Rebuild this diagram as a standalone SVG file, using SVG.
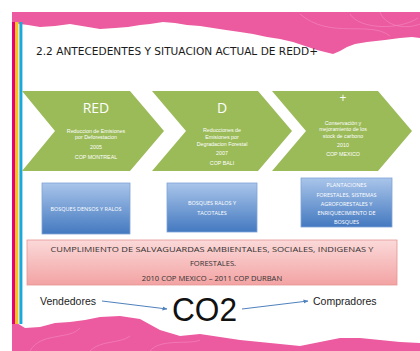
<svg xmlns="http://www.w3.org/2000/svg" width="420" height="351" viewBox="0 0 420 351">
<style>
.chev{fill:#9bbb59}
.cw{fill:#ffffff;font-family:"Open Sans","Liberation Sans",sans-serif;text-anchor:middle}
.big{font-size:14px}
.sm{font-size:5.3px;font-family:"Liberation Sans",Arial,sans-serif}
.bx{fill:url(#gBlue);stroke:#7fa3d6;stroke-width:0.8}
.bt{fill:#ffffff;font-family:"Open Sans","Liberation Sans",sans-serif;font-size:5.5px;text-anchor:middle}
.pt{fill:#333333;font-family:"Open Sans","Liberation Sans",sans-serif;font-size:7.6px;text-anchor:middle}
.lab{fill:#222;font-family:"Liberation Sans",Arial,sans-serif;font-size:10.5px}
.conn{stroke:#4f81bd;stroke-width:1;fill:none;marker-end:url(#ah)}
.swirl{fill:none;stroke:#f48cc0;stroke-width:1;opacity:0.6}
</style>
<defs>
<linearGradient id="gBlue" x1="0" y1="0" x2="0" y2="1">
<stop offset="0" stop-color="#a9c5ea"/>
<stop offset="1" stop-color="#4479c0"/>
</linearGradient>
<linearGradient id="gPink" x1="0" y1="0" x2="0" y2="1">
<stop offset="0" stop-color="#fbd9d9"/>
<stop offset="1" stop-color="#f3a3a3"/>
</linearGradient>
<marker id="ah" viewBox="0 0 10 10" refX="9" refY="5" markerWidth="5" markerHeight="5" orient="auto">
<path d="M0,1 L10,5 L0,9 Z" fill="#4f81bd"/>
</marker>
</defs>
<rect width="420" height="351" fill="#ffffff"/>
<g id="background">
<path d="M12,12 H420 V38 L412,37 L400,38 L385,40 L367,42 L355,44 L347,47 L340,51 L333,54 L325,52 L317,50 L305,46 L293,42 L280,39 L267,37 L253,34 L240,32 L226,30 L213,28 L200,26 L187,25 L175,23 L163,22 L150,24 L140,25 L128,27 L115,28 L100,29 L88,27 L70,24 L55,26 L40,27 L28,25 L12,23 Z" fill="#ec5aa0"/>
<path d="M12,320 L25,328 L40,327 L55,323 L70,322 L85,320 L100,317 L120,316 L140,319 L160,330 L180,336 L200,334 L220,337 L240,340 L260,342 L280,344 L300,346 L320,342 L340,338 L360,338 L380,340 L400,342 L420,343 V351 H12 Z" fill="#ec5aa0"/>
<path class="swirl" d="M300,14 C330,40 370,20 390,36 M350,14 C360,30 400,30 418,18 M380,12 C385,26 405,30 420,24"/>
<path class="swirl" d="M30,351 C40,332 70,340 80,328 M150,351 C160,338 190,345 200,340 M90,351 C100,340 120,344 130,336"/>
<rect x="12" y="22" width="3" height="302" fill="#e6007e"/>
<rect x="15" y="22" width="3.4" height="302" fill="#f8c31c"/>
<rect x="19.4" y="22" width="3" height="302" fill="#19a9dc"/>
</g>
<text id="title" x="36" y="55" font-family="'DejaVu Sans',sans-serif" font-size="10.5" fill="#1a1a1a" textLength="282" lengthAdjust="spacingAndGlyphs">2.2 ANTECEDENTES Y SITUACION ACTUAL DE REDD+</text>
<g id="chev-red">
<path class="chev" d="M22,91 H130 L164,131 L130,171 H22 L55,131 Z"/>
<text class="cw big" x="96" y="113">RED</text>
<text class="cw sm" x="96" y="132.5">Reduccion de Emisiones</text>
<text class="cw sm" x="96" y="139">por Deforestacion</text>
<text class="cw sm" x="96" y="148.5">2005</text>
<text class="cw sm" x="96" y="159">COP MONTREAL</text>
</g>
<g id="chev-d">
<path class="chev" d="M152,91 H258 L292,131 L258,171 H152 L186,131 Z"/>
<text class="cw big" x="222" y="113">D</text>
<text class="cw sm" x="222" y="132">Reducciones de</text>
<text class="cw sm" x="222" y="139">Emisiones por</text>
<text class="cw sm" x="222" y="146">Degradacion Forestal</text>
<text class="cw sm" x="222" y="154.5">2007</text>
<text class="cw sm" x="222" y="164.5">COP BALI</text>
</g>
<g id="chev-plus">
<path class="chev" d="M272,91 H378 L412,131 L378,171 H272 L306,131 Z"/>
<text class="cw" font-size="12" x="343" y="102">+</text>
<text class="cw sm" x="343" y="124.5">Conservación y</text>
<text class="cw sm" x="343" y="131">mejoramiento de los</text>
<text class="cw sm" x="343" y="137.5">stock de carbono</text>
<text class="cw sm" x="343" y="146.5">2010</text>
<text class="cw sm" x="343" y="156">COP MEXICO</text>
</g>
<g id="box-densos">
<rect class="bx" x="42" y="183" width="88" height="51"/>
<text class="bt" x="86" y="211">BOSQUES DENSOS Y RALOS</text>
</g>
<g id="box-ralos">
<rect class="bx" x="167" y="183" width="90" height="49"/>
<text class="bt" x="212" y="205">BOSQUES RALOS Y</text>
<text class="bt" x="212" y="214.5">TACOTALES</text>
</g>
<g id="box-plantaciones">
<rect class="bx" x="301" y="178" width="91" height="49"/>
<text class="bt" x="346.5" y="187">PLANTACIONES</text>
<text class="bt" x="346.5" y="196.5">FORESTALES, SISTEMAS</text>
<text class="bt" x="346.5" y="205.5">AGROFORESTALES Y</text>
<text class="bt" x="346.5" y="214.5">ENRIQUECIMIENTO DE</text>
<text class="bt" x="346.5" y="223.5">BOSQUES</text>
</g>
<g id="box-salvaguardas">
<rect x="27" y="240" width="370" height="45" fill="url(#gPink)" stroke="#e69494" stroke-width="0.8"/>
<text class="pt" x="212" y="252" textLength="323" lengthAdjust="spacingAndGlyphs">CUMPLIMIENTO DE SALVAGUARDAS AMBIENTALES, SOCIALES, INDIGENAS Y</text>
<text class="pt" x="213" y="266">FORESTALES.</text>
<text class="pt" x="212" y="281">2010 COP MEXICO – 2011 COP DURBAN</text>
</g>
<g id="vendedores"><text class="lab" x="40" y="305">Vendedores</text></g>
<g id="co2"><text x="172" y="321" font-family="'Liberation Sans',Arial,sans-serif" font-size="34" fill="#111" textLength="65" lengthAdjust="spacingAndGlyphs">CO2</text></g>
<g id="compradores"><text class="lab" x="313" y="305">Compradores</text></g>
<g id="connectors">
<line class="conn" x1="102" y1="301" x2="167" y2="309"/>
<line class="conn" x1="242" y1="309" x2="308" y2="301"/>
</g>
</svg>
